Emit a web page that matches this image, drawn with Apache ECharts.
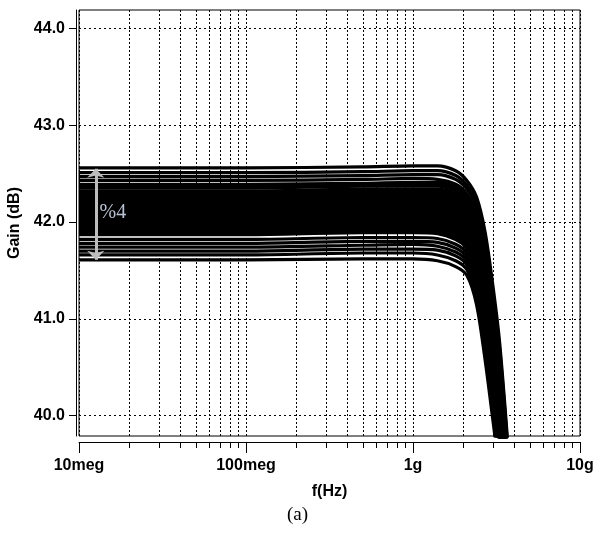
<!DOCTYPE html>
<html>
<head>
<meta charset="utf-8">
<script src="https://cdn.jsdelivr.net/npm/echarts@6.0.0/dist/echarts.min.js"></script>
<style>
  html, body { margin: 0; padding: 0; background: #fff; }
  #chart { width: 595px; height: 536px; }
</style>
</head>
<body>
<div id="chart"></div>
<script>
// frequency points (Hz) shared by every Monte Carlo run
const freqHz = [1e7, 1e8, 5e8, 1e9, 1.4e9, 1.8e9, 2.1e9, 2.4e9, 2.7e9, 3.0e9, 3.3e9, 3.7e9];

// gain (dB) of each Monte Carlo run at freqHz
// upper group of runs (thin white gaps between them)
const gainRunsHigh = [
  [42.56, 42.56, 42.57, 42.58, 42.58, 42.53, 42.43, 42.26, 41.90, 41.36, 40.76, 39.70],
  [42.51, 42.51, 42.52, 42.53, 42.53, 42.48, 42.38, 42.21, 41.84, 41.29, 40.70, 39.65],
  [42.47, 42.47, 42.48, 42.49, 42.49, 42.44, 42.34, 42.16, 41.78, 41.23, 40.64, 39.60],
  [42.43, 42.43, 42.44, 42.45, 42.44, 42.39, 42.29, 42.10, 41.72, 41.17, 40.57, 39.55],
  [42.39, 42.39, 42.40, 42.41, 42.41, 42.36, 42.26, 42.06, 41.67, 41.11, 40.52, 39.51]
];
// dense middle group of runs (solid black)
const gainRunsMid = [
  [42.36, 42.36, 42.38, 42.38, 42.38, 42.33, 42.23, 42.03, 41.63, 41.08, 40.48, 39.48],
  [42.31, 42.31, 42.33, 42.33, 42.33, 42.28, 42.18, 41.98, 41.56, 41.00, 40.41, 39.42],
  [42.28, 42.28, 42.30, 42.30, 42.30, 42.24, 42.15, 41.94, 41.52, 40.96, 40.37, 39.38],
  [42.25, 42.25, 42.26, 42.27, 42.26, 42.21, 42.11, 41.90, 41.48, 40.91, 40.32, 39.35],
  [42.22, 42.22, 42.23, 42.24, 42.23, 42.18, 42.08, 41.87, 41.43, 40.87, 40.28, 39.31],
  [42.19, 42.19, 42.20, 42.21, 42.20, 42.15, 42.05, 41.83, 41.39, 40.82, 40.24, 39.28],
  [42.16, 42.16, 42.17, 42.18, 42.17, 42.12, 42.02, 41.80, 41.35, 40.78, 40.19, 39.24],
  [42.13, 42.13, 42.14, 42.15, 42.14, 42.08, 41.99, 41.76, 41.31, 40.73, 40.15, 39.20],
  [42.10, 42.10, 42.11, 42.12, 42.11, 42.05, 41.96, 41.72, 41.26, 40.69, 40.10, 39.17],
  [42.07, 42.07, 42.08, 42.09, 42.07, 42.02, 41.92, 41.69, 41.22, 40.64, 40.06, 39.13],
  [42.03, 42.03, 42.05, 42.05, 42.04, 41.99, 41.89, 41.65, 41.18, 40.60, 40.01, 39.10],
  [42.00, 42.00, 42.02, 42.02, 42.01, 41.96, 41.86, 41.62, 41.13, 40.55, 39.97, 39.06],
  [41.97, 41.97, 41.99, 41.99, 41.98, 41.92, 41.83, 41.58, 41.09, 40.51, 39.93, 39.03],
  [41.94, 41.94, 41.96, 41.96, 41.95, 41.89, 41.80, 41.54, 41.05, 40.46, 39.88, 38.99],
  [41.91, 41.91, 41.93, 41.93, 41.92, 41.86, 41.77, 41.51, 41.01, 40.42, 39.84, 38.96],
  [41.88, 41.88, 41.90, 41.90, 41.89, 41.83, 41.74, 41.47, 40.96, 40.37, 39.80, 38.92]
];
// lower group of runs (thin white gaps between them)
const gainRunsLow = [
  [41.82, 41.82, 41.84, 41.84, 41.83, 41.77, 41.68, 41.41, 40.89, 40.29, 39.71, 38.85],
  [41.78, 41.78, 41.80, 41.80, 41.79, 41.73, 41.64, 41.36, 40.83, 40.23, 39.66, 38.81],
  [41.74, 41.74, 41.76, 41.77, 41.75, 41.69, 41.60, 41.32, 40.78, 40.18, 39.61, 38.77],
  [41.70, 41.70, 41.72, 41.72, 41.71, 41.65, 41.56, 41.27, 40.72, 40.12, 39.55, 38.72],
  [41.66, 41.66, 41.68, 41.68, 41.66, 41.60, 41.51, 41.22, 40.66, 40.05, 39.48, 38.67],
  [41.61, 41.61, 41.62, 41.62, 41.60, 41.54, 41.45, 41.15, 40.58, 39.97, 39.40, 38.60]
];

const gainMin = 39.79;
const gainMax = 44.19;
const gainTicks = [40, 41, 42, 43, 44];
const freqTickLabels = { 7: '10meg', 8: '100meg', 9: '1g', 10: '10g' };
const minorFreqs = [
  2e7, 3e7, 4e7, 5e7, 6e7, 7e7, 8e7, 9e7,
  2e8, 3e8, 4e8, 5e8, 6e8, 7e8, 8e8, 9e8,
  2e9, 3e9, 4e9, 5e9, 6e9, 7e9, 8e9, 9e9
];

// spread annotation
const spreadFreq = 1.26e7;
const spreadGain = [41.61, 42.55];
const spreadText = '%4';

const chart = echarts.init(document.getElementById('chart'));

const labelFont = { fontFamily: 'Liberation Sans', fontWeight: 'bold', fontSize: 16, color: '#000' };

const makeRuns = (runs, width) => runs.map(run => ({
  type: 'line',
  data: freqHz.map((f, i) => [f, run[i]]),
  showSymbol: false,
  smooth: 0.3,
  lineStyle: { color: '#000', width: width },
  z: 3,
  silent: true
}));

const runSeries = [].concat(
  makeRuns(gainRunsHigh, 3.2),
  makeRuns(gainRunsMid, 5),
  makeRuns(gainRunsLow, 3.2)
);

chart.setOption({
  animation: false,
  grid: {
    left: 79, top: 10, right: 15, bottom: 100,
    containLabel: false,
    outerBoundsMode: 'none',
    show: true, borderColor: '#000', borderWidth: 1
  },
  xAxis: {
    type: 'log',
    logBase: 10,
    min: 1e7,
    max: 1e10,
    offset: 6,
    name: 'f(Hz)',
    nameLocation: 'middle',
    nameGap: 42,
    nameTextStyle: { fontFamily: 'Liberation Sans', fontWeight: 'bold', fontSize: 16, color: '#000' },
    axisLine: { onZero: false, lineStyle: { color: '#000', width: 1 } },
    axisTick: { length: 11, lineStyle: { color: '#000' } },
    minorTick: { show: false },
    axisLabel: Object.assign({
      margin: 16,
      formatter: v => freqTickLabels[Math.round(Math.log10(v))] || ''
    }, labelFont),
    splitLine: { show: true, lineStyle: { color: '#000', type: [2, 2], width: 1 } }
  },
  yAxis: {
    type: 'value',
    min: gainMin,
    max: gainMax,
    offset: 3,
    name: 'Gain (dB)',
    nameLocation: 'middle',
    nameGap: 51,
    nameTextStyle: { fontFamily: 'Liberation Sans', fontWeight: 'bold', fontSize: 16, color: '#000' },
    axisLine: { show: true, lineStyle: { color: '#000', width: 1 } },
    axisTick: { show: true, length: 7, customValues: gainTicks, lineStyle: { color: '#000' } },
    axisLabel: Object.assign({
      margin: 11,
      customValues: gainTicks,
      formatter: v => v.toFixed(1)
    }, labelFont),
    splitLine: { show: true, lineStyle: { color: '#000', type: [2, 3], width: 1 } }
  },
  graphic: [{
    type: 'text',
    left: 'center',
    top: 506,
    style: { text: '(a)', font: '19px "Liberation Serif"', fill: '#000' }
  }],
  series: [
    {
      // minor log grid lines and minor ticks
      type: 'custom',
      data: minorFreqs.map(f => [f, gainMin]),
      encode: { x: 0, y: 1 },
      clip: false,
      silent: true,
      z: 1,
      renderItem: (params, api) => {
        const base = api.coord([api.value(0), gainMin]);
        const top = api.coord([api.value(0), gainMax]);
        const x = Math.round(base[0]) + 0.5;
        return {
          type: 'group',
          children: [
            { type: 'line', shape: { x1: x, y1: top[1], x2: x, y2: base[1] },
              style: { stroke: '#000', lineWidth: 1, lineDash: [2, 2] } },
            { type: 'line', shape: { x1: x, y1: base[1] + 6, x2: x, y2: base[1] + 12 },
              style: { stroke: '#000', lineWidth: 1 } }
          ]
        };
      }
    }
  ].concat(runSeries, [
    {
      // gain spread arrow
      type: 'line',
      data: [],
      z: 10,
      silent: true,
      markLine: {
        silent: true,
        symbol: ['arrow', 'arrow'],
        symbolSize: [13, 9],
        label: { show: false },
        lineStyle: { color: '#bdbdbd', width: 3, type: 'solid' },
        data: [[{ coord: [spreadFreq, spreadGain[0]] }, { coord: [spreadFreq, spreadGain[1]] }]]
      },
      markPoint: {
        silent: true,
        symbol: 'circle',
        symbolSize: 0,
        data: [{ coord: [1.24e7, 42.1] }],
        label: {
          show: true,
          position: 'right',
          formatter: spreadText,
          fontFamily: 'Liberation Serif',
          fontSize: 20,
          color: '#b9c2d2'
        }
      }
    }
  ])
});
</script>
</body>
</html>
